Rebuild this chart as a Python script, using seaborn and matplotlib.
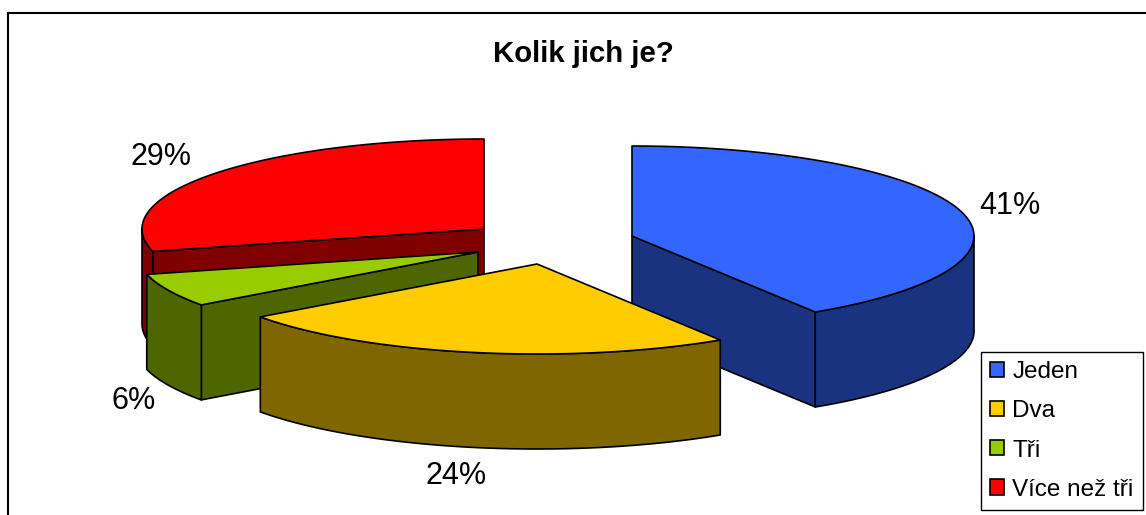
import numpy as np
import matplotlib
matplotlib.use("Agg")
import matplotlib.pyplot as plt
from matplotlib.patches import Polygon, Patch
import seaborn as sns

categories = ["Jeden", "Dva", "Tři", "Více než tři"]
values = [41, 24, 6, 29]
top_colors = ["#3366FF", "#FFCC00", "#99CC00", "#FF0000"]
side_colors = ["#1A3380", "#806600", "#4D6600", "#800000"]

# layout of the exploded pie, in picture pixels
centers = [(632, 236), (537, 264), (478, 252), (484, 229)]
label_pos = [(1010, 206), (456, 476), (134, 401), (161, 157)]
rx, ry, depth = 342, 90, 95
draw_order = [0, 3, 2, 1]

sns.set_theme(style="white")
plt.rcParams["font.family"] = ["Liberation Sans", "DejaVu Sans"]

fig = plt.figure(figsize=(11.46, 5.15), dpi=100)
ax = fig.add_axes([0, 0, 1, 1])
ax.set_xlim(0, 1146)
ax.set_ylim(515, 0)
ax.axis("off")


def rim(c, a, b):
    t = np.radians(np.linspace(a, b, max(2, int(abs(b - a) * 2))))
    return np.column_stack([c[0] + rx * np.sin(t), c[1] - ry * np.cos(t)])


edges = np.concatenate([[0], np.cumsum(values)]) / sum(values) * 360

for i in draw_order:
    c = centers[i]
    a, b = edges[i], edges[i + 1]
    down = np.array([0, depth])
    lw = 1.2
    # flat cut faces, only those turned to the viewer
    for ang, normal in [(a, a - 90), (b, b + 90)]:
        if np.cos(np.radians(normal)) < -1e-6:
            p = rim(c, ang, ang)[0]
            ax.add_patch(Polygon([c, p, p + down, np.array(c) + down], closed=True,
                                 fc=side_colors[i], ec="black", lw=lw, joinstyle="round"))
    # outer wall, front half of the rim
    w0, w1 = max(a, 90), min(b, 270)
    if w1 > w0:
        arc = rim(c, w0, w1)
        ax.add_patch(Polygon(np.vstack([arc, arc[::-1] + down]), closed=True,
                             fc=side_colors[i], ec="black", lw=lw, joinstyle="round"))
    # top face
    ax.add_patch(Polygon(np.vstack([[c], rim(c, a, b)]), closed=True,
                         fc=top_colors[i], ec="black", lw=lw, joinstyle="round"))

for v, pos in zip(values, label_pos):
    ax.text(pos[0], pos[1], f"{v}%", fontsize=22, ha="center", va="center", color="black")

ax.text(583.5, 54.5, "Kolik jich je?", fontsize=21.2, fontweight="bold", ha="center", va="center", color="black")

# chart frame
ax.plot([7.5, 7.5, 1146], [515, 13, 13], color="black", lw=1.5, solid_joinstyle="miter")

handles = [Patch(fc=col, ec="black", lw=1.2) for col in top_colors]
leg = ax.legend(handles, categories, loc="lower right", bbox_to_anchor=(1143, 510),
                bbox_transform=ax.transData, fontsize=17.5, frameon=True, fancybox=False,
                framealpha=1, edgecolor="black", handlelength=0.58, handleheight=0.58,
                handletextpad=0.33, labelspacing=0.7, borderpad=0.39, borderaxespad=0)
leg.get_frame().set_linewidth(1.0)
for t in leg.get_texts():
    t.set_color("black")

fig.savefig("out.png", dpi=100)
